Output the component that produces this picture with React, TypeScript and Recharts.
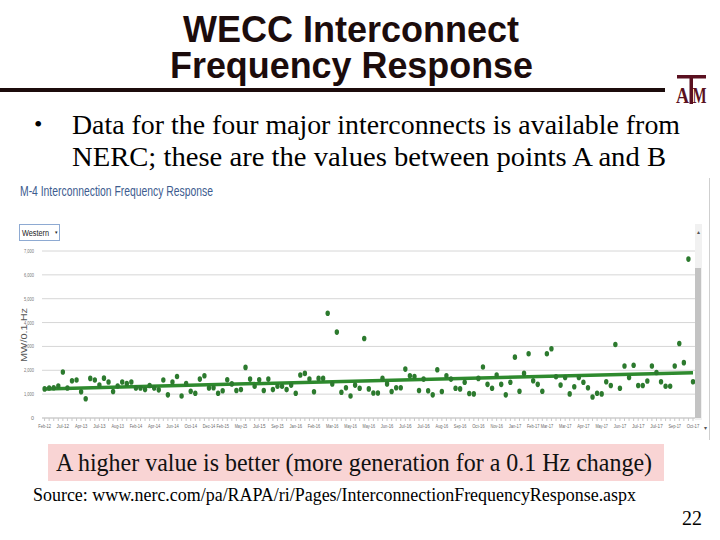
import React from 'react';
import { ComposedChart, Scatter, Line, XAxis, YAxis, CartesianGrid } from 'recharts';

// event labels shown under the axis (about one every fourth event)
const tickLabels = [
    'Feb-12', 'Jul-12', 'Apr-13', 'Jul-13', 'Aug-13', 'Feb-14', 'Apr-14', 'Jun-14', 'Oct-14',
    'Dec-14', 'Feb-15', 'May-15', 'Jul-15', 'Sep-15', 'Jan-16', 'Feb-16', 'Mar-16', 'May-16',
    'May-16', 'Jun-16', 'Jul-16', 'Jul-16', 'Aug-16', 'Sep-16', 'Oct-16', 'Nov-16', 'Jan-17',
    'Feb-17', 'Mar-17', 'Mar-17', 'Apr-17', 'May-17', 'Jun-17', 'Jul-17', 'Jul-17', 'Sep-17', 'Oct-17',
];

// frequency response per event, MW/0.1 Hz
const frequencyResponse = [
    1220, 1260, 1270, 1340, 1930, 1260, 1560, 1590, 1100, 810, 1660, 1590, 1380, 1670, 1510,
    1110, 1340, 1510, 1440, 1510, 1260, 1260, 1190, 1360, 1260, 1180, 1590, 970, 1510, 1740,
    920, 1440, 1120, 1040, 1630, 1770, 1260, 1270, 1040, 1140, 1600, 1430, 1150,
    1190, 2120, 1630, 1330, 1600, 1150, 1630, 1190, 1330, 1330, 1190, 1380, 1040, 1800, 1870,
    1630, 1100, 1660, 1660, 4390, 1430, 3600, 1080, 1270, 920, 1380, 1250, 3330, 1220, 1050,
    1050, 1660, 1430, 1110, 1270, 1270, 2050, 1770, 1740, 1150, 1630, 1140, 970, 2020, 1110,
    1770, 1630, 1250, 1220, 1500, 1030,
    1010, 1660, 2140, 1410, 1250, 1800, 1410, 970, 1500, 2550, 1120, 1870, 2690, 1560, 1410,
    1120, 2690, 2900, 1730, 1380, 1700, 1010, 1310, 1700, 1500, 1270, 880, 1040, 1010, 1520,
    1360, 3080, 1250, 2180, 1700, 2210, 1360, 1360, 1550, 2180, 1910, 1520, 1330, 1330, 2180,
    3120, 2320, 6660, 1520,
];

// trend line read at its two ends
const trendStart = 1220;
const trendEnd = 1900;

const yTicks = [0, 1000, 2000, 3000, 4000, 5000, 6000, 7000];

const last = frequencyResponse.length - 1;
const data = frequencyResponse.map((v, i) => ({
    i,
    v,
    trend: i === 0 ? trendStart : i === last ? trendEnd : null,
}));

const labelAt: Record<number, string> = {};
tickLabels.forEach((t, k) => {
    labelAt[Math.round((k * last) / (tickLabels.length - 1))] = t;
});
const xTicks = data.map((d) => d.i);

const serif = '"Liberation Serif", "Times New Roman", serif';
const sans = '"Liberation Sans", Arial, sans-serif';

const XTick = (props: any) => {
    const { x, y, payload } = props;
    const label = labelAt[payload.value];
    if (!label) return <g />;
    return (
        <text x={x} y={y + 5} textAnchor="middle" fontSize={4.6} fill="#6a6a6a" style={{ fontFamily: sans }}
            textLength={12.5} lengthAdjust="spacingAndGlyphs">
            {label}
        </text>
    );
};

const YTick = (props: any) => {
    const { x, y, payload } = props;
    const s = payload.value.toLocaleString('en-US');
    return (
        <text x={x} y={y + 2} textAnchor="end" fontSize={5.6} fill="#777" style={{ fontFamily: sans }}
            textLength={s.length > 1 ? 10 : 3} lengthAdjust="spacingAndGlyphs">
            {s}
        </text>
    );
};

const Dot = (props: any) => {
    const { cx, cy } = props;
    return <ellipse cx={cx} cy={cy} rx={2.2} ry={2.8} fill="#2c7a2e" />;
};

const Slide = () => (
    <svg width={720} height={540} style={{ position: 'absolute', left: 0, top: 0 }}>
        <rect x={0} y={0} width={720} height={540} fill="#ffffff" />
        <text x={183} y={42} style={{ fontFamily: sans }} fontWeight="bold" fontSize={36} fill="#1c0c0c"
            textLength={336} lengthAdjust="spacingAndGlyphs">WECC Interconnect</text>
        <text x={170} y={78} style={{ fontFamily: sans }} fontWeight="bold" fontSize={36} fill="#1c0c0c"
            textLength={363} lengthAdjust="spacingAndGlyphs">Frequency Response</text>
        <rect x={0} y={88} width={665} height={4} fill="#1c0c0c" />

        {/* A&M mark */}
        <g fill="#5a1020">
            <rect x={677} y={75} width={29} height={3.5} />
            <rect x={689.5} y={75} width={3.5} height={29} />
            <text x={676} y={103} style={{ fontFamily: serif }} fontWeight="bold" fontSize={24}
                textLength={13} lengthAdjust="spacingAndGlyphs">A</text>
            <text x={692.5} y={103} style={{ fontFamily: serif }} fontWeight="bold" fontSize={24}
                textLength={14} lengthAdjust="spacingAndGlyphs">M</text>
        </g>

        <text x={34} y={132} style={{ fontFamily: serif }} fontSize={24} fill="#000">•</text>
        <text x={72} y={134} style={{ fontFamily: serif }} fontSize={28} fill="#000"
            textLength={608} lengthAdjust="spacingAndGlyphs">Data for the four major interconnects is available from</text>
        <text x={72} y={166} style={{ fontFamily: serif }} fontSize={28} fill="#000"
            textLength={594} lengthAdjust="spacingAndGlyphs">NERC; these are the values between points A and B</text>

        {/* embedded chart page */}
        <text x={20} y={196} style={{ fontFamily: sans }} fontSize={15} fill="#3d5c8f"
            textLength={193} lengthAdjust="spacingAndGlyphs">M-4 Interconnection Frequency Response</text>
        <rect x={19.5} y={224.5} width={40} height={16} fill="#fff" stroke="#8eaad2" />
        <text x={22} y={236} style={{ fontFamily: sans }} fontSize={8.5} fill="#222"
            textLength={27} lengthAdjust="spacingAndGlyphs">Western</text>
        <text x={56.5} y={234} style={{ fontFamily: sans }} fontSize={5} fill="#222" textAnchor="middle">▾</text>
        <text x={27} y={335} style={{ fontFamily: sans }} fontSize={9.5} fill="#555" textAnchor="middle"
            transform="rotate(-90 27 335)" textLength={54} lengthAdjust="spacingAndGlyphs">MW/0.1 Hz</text>
        <line x1={709.5} x2={709.5} y1={178} y2={440} stroke="#cfcfcf" />
        <rect x={695} y={224} width={7} height={196} fill="#f1f1f1" />
        <rect x={695} y={268} width={6} height={150} fill="#c3c3c3" />
        <text x={698.5} y={234} style={{ fontFamily: sans }} fontSize={6} fill="#555" textAnchor="middle">▴</text>
        <text x={705} y={430} style={{ fontFamily: sans }} fontSize={6} fill="#555" textAnchor="middle">▾</text>

        <rect x={48} y={444} width={616} height={37} fill="#f9d4d4" />
        <text x={56} y={471} style={{ fontFamily: serif }} fontSize={25} fill="#111"
            textLength={596} lengthAdjust="spacingAndGlyphs">A higher value is better (more generation for a 0.1 Hz change)</text>
        <text x={33} y={501} style={{ fontFamily: serif }} fontSize={18} fill="#000"
            textLength={603} lengthAdjust="spacingAndGlyphs">Source: www.nerc.com/pa/RAPA/ri/Pages/InterconnectionFrequencyResponse.aspx</text>
        <text x={682} y={525} style={{ fontFamily: serif }} fontSize={20} fill="#000">22</text>
    </svg>
);

export default function App() {
    return (
        <div style={{ position: 'absolute', left: 0, top: 0, width: 720, height: 540, background: '#fff' }}>
            <Slide />
            <div style={{ position: 'absolute', left: 0, top: 178 }}>
                <ComposedChart width={710} height={262} data={data}
                    margin={{ top: 73, right: 15, left: 8, bottom: 8 }}>
                    <CartesianGrid vertical={false} stroke="#d6d6d6" />
                    <XAxis dataKey="i" type="number" domain={[-0.57, last + 0.44]} ticks={xTicks}
                        interval={0} tick={<XTick />} tickSize={3} height={14}
                        stroke="#c8c8c8" allowDataOverflow />
                    <YAxis type="number" domain={[0, 7000]} ticks={yTicks} width={34}
                        axisLine={false} tickLine={false} tick={<YTick />} />
                    <Line dataKey="trend" stroke="#2e8a2e" strokeWidth={3.5} dot={false}
                        connectNulls isAnimationActive={false} />
                    <Scatter dataKey="v" shape={<Dot />} isAnimationActive={false} />
                </ComposedChart>
            </div>
        </div>
    );
}
